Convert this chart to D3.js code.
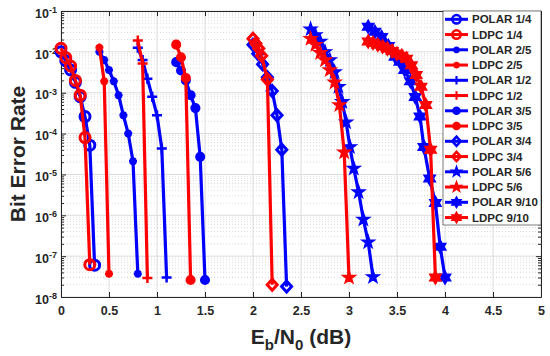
<!DOCTYPE html>
<html>
<head>
<meta charset="utf-8">
<script src="https://cdn.jsdelivr.net/npm/d3@7"></script>
<style>
    body { margin: 0; background: #fff; }
    svg { display: block; font-family: "Liberation Sans", Arial, sans-serif; }
</style>
</head>
<body>
<svg id="chart" width="550" height="356"></svg>
<script>
// Eb/N0 (dB), bit error rate
var polar_1_4 = [[0, 1.0e-2], [0.05, 6.0e-3], [0.1, 3.6e-3], [0.15, 1.8e-3], [0.2, 8.0e-4], [0.25, 2.6e-4], [0.3, 5.2e-5], [0.35, 6.0e-8]];
var ldpc_1_4 = [[0, 1.22e-2], [0.05, 7.2e-3], [0.1, 4.5e-3], [0.15, 2.0e-3], [0.2, 8.7e-4], [0.25, 8.0e-5], [0.3, 6.2e-8]];
var polar_2_5 = [[0.4, 1.0e-2], [0.45, 6.3e-3], [0.5, 3.6e-3], [0.55, 1.9e-3], [0.6, 8.7e-4], [0.65, 2.8e-4], [0.7, 1.0e-4], [0.75, 2.1e-5], [0.8, 3.7e-8]];
var ldpc_2_5 = [[0.4, 1.27e-2], [0.45, 1.9e-3], [0.5, 3.7e-8]];
var polar_1_2 = [[0.8, 1.26e-2], [0.85, 6.3e-3], [0.9, 2.2e-3], [0.95, 8.0e-4], [1.0, 2.8e-4], [1.05, 4.3e-5], [1.1, 3.0e-8]];
var ldpc_1_2 = [[0.8, 1.9e-2], [0.85, 5.2e-3], [0.9, 2.9e-8]];
var polar_3_5 = [[1.2, 5.6e-3], [1.25, 3.5e-3], [1.3, 2.0e-3], [1.35, 8.7e-4], [1.4, 4.2e-4], [1.45, 2.7e-5], [1.5, 2.6e-8]];
var ldpc_3_5 = [[1.2, 1.5e-2], [1.25, 7.4e-3], [1.3, 2.3e-3], [1.35, 2.6e-8]];
var polar_3_4 = [[2.0, 1.5e-2], [2.05, 9.0e-3], [2.1, 5.0e-3], [2.15, 2.4e-3], [2.2, 1.1e-3], [2.25, 2.8e-4], [2.3, 4.0e-5], [2.35, 1.8e-8]];
var ldpc_3_4 = [[2.0, 2.1e-2], [2.03, 1.6e-2], [2.06, 1.2e-2], [2.09, 8.0e-3], [2.15, 2.1e-3], [2.2, 2.0e-8]];
var polar_5_6 = [[2.6, 3.6e-2], [2.65, 2.6e-2], [2.7, 1.8e-2], [2.75, 1.0e-2], [2.8, 6.3e-3], [2.85, 3.2e-3], [2.89, 1.4e-3], [2.93, 6.0e-4], [2.97, 1.9e-4], [3.01, 4.7e-5], [3.05, 1.4e-5], [3.1, 3.7e-6], [3.15, 7.9e-7], [3.2, 2.2e-7], [3.25, 3.1e-8]];
var ldpc_5_6 = [[2.6, 2.1e-2], [2.65, 1.5e-2], [2.7, 9.5e-3], [2.75, 6.3e-3], [2.8, 3.6e-3], [2.85, 1.8e-3], [2.9, 5.0e-4], [2.95, 3.5e-5], [3.0, 3.0e-8]];
var polar_9_10 = [[3.2, 4.1e-2], [3.27, 3.1e-2], [3.34, 2.3e-2], [3.41, 1.4e-2], [3.48, 7.6e-3], [3.53, 5.7e-3], [3.58, 3.6e-3], [3.64, 1.9e-3], [3.69, 7.9e-4], [3.74, 2.6e-4], [3.78, 4.7e-5], [3.84, 8.0e-6], [3.9, 2.0e-6], [3.95, 1.7e-7], [4.0, 3.0e-8]];
var ldpc_9_10 = [[3.2, 1.8e-2], [3.25, 1.65e-2], [3.3, 1.5e-2], [3.35, 1.35e-2], [3.4, 1.2e-2], [3.45, 1.05e-2], [3.5, 9.0e-3], [3.55, 8.0e-3], [3.6, 6.8e-3], [3.65, 4.7e-3], [3.7, 2.7e-3], [3.75, 1.4e-3], [3.8, 5.0e-4], [3.85, 4.0e-5], [3.9, 3.0e-8]];

var xTicks = [0, 0.5, 1, 1.5, 2, 2.5, 3, 3.5, 4, 4.5, 5];
var yExponents = [-8, -7, -6, -5, -4, -3, -2, -1];

(function() {
    'use strict';

    var BLUE = '#0000ff';
    var RED = '#ff0000';
    var INK = '#262626';

    var plot = { left: 61, right: 541, top: 11, bottom: 297 };

    var series = [
        { name: 'POLAR 1/4', data: polar_1_4, color: BLUE, marker: 'o' },
        { name: 'LDPC 1/4', data: ldpc_1_4, color: RED, marker: 'o' },
        { name: 'POLAR 2/5', data: polar_2_5, color: BLUE, marker: '*' },
        { name: 'LDPC 2/5', data: ldpc_2_5, color: RED, marker: '*' },
        { name: 'POLAR 1/2', data: polar_1_2, color: BLUE, marker: '+' },
        { name: 'LDPC 1/2', data: ldpc_1_2, color: RED, marker: '+' },
        { name: 'POLAR 3/5', data: polar_3_5, color: BLUE, marker: '.' },
        { name: 'LDPC 3/5', data: ldpc_3_5, color: RED, marker: '.' },
        { name: 'POLAR 3/4', data: polar_3_4, color: BLUE, marker: 'd' },
        { name: 'LDPC 3/4', data: ldpc_3_4, color: RED, marker: 'd' },
        { name: 'POLAR 5/6', data: polar_5_6, color: BLUE, marker: 'p' },
        { name: 'LDPC 5/6', data: ldpc_5_6, color: RED, marker: 'p' },
        { name: 'POLAR 9/10', data: polar_9_10, color: BLUE, marker: 'h' },
        { name: 'LDPC 9/10', data: ldpc_9_10, color: RED, marker: 'h' }
    ];

    var svg = d3.select('#chart');

    var x = d3.scaleLinear().domain([0, 5]).range([plot.left, plot.right]);
    var y = d3.scaleLog().domain([1e-8, 1e-1]).range([plot.bottom, plot.top]);

    var decades = yExponents.map(function(e) { return Math.pow(10, e); });
    var minors = [];
    yExponents.slice(0, -1).forEach(function(e) {
        for (var k = 2; k <= 9; k++) minors.push(k * Math.pow(10, e));
    });

    /**
     * star shaped path (pentagram / hexagram)
     */
    function starPath(n, outer, inner) {
        var pts = [];
        for (var i = 0; i < n * 2; i++) {
            var r = i % 2 ? inner : outer;
            var a = -Math.PI / 2 + i * Math.PI / n;
            pts.push((r * Math.cos(a)).toFixed(2) + ',' + (r * Math.sin(a)).toFixed(2));
        }
        return 'M' + pts.join('L') + 'Z';
    }

    function markerPath(type) {
        var p = d3.path();
        var d;
        switch (type) {
            case 'o':
                p.arc(0, 0, 5, 0, 2 * Math.PI);
                return p.toString();
            case '.':
                p.arc(0, 0, 3.8, 0, 2 * Math.PI);
                return p.toString();
            case '*':
                d = 4 * Math.SQRT1_2;
                return 'M-4,0L4,0M0,-4L0,4M' + -d + ',' + -d + 'L' + d + ',' + d + 'M' + -d + ',' + d + 'L' + d + ',' + -d;
            case '+':
                return 'M-5,0L5,0M0,-5L0,5';
            case 'd':
                return 'M0,-5.5L5,0L0,5.5L-5,0Z';
            case 'p':
                return starPath(5, 6.5, 2.6);
            case 'h':
                return starPath(6, 6.5, 3.75);
        }
        return '';
    }

    function markerFill(s) {
        return (s.marker === '.' || s.marker === 'p' || s.marker === 'h') ? s.color : 'none';
    }

    function markerStroke(s) {
        if (s.marker === 'p' || s.marker === 'h') return 1.5;
        if (s.marker === 'o' || s.marker === 'd') return 3;
        return 2.5;
    }

    // grid
    var grid = svg.append('g').attr('class', 'grid');

    grid.selectAll('line.minor')
        .data(minors)
        .enter().append('line')
        .attr('class', 'minor')
        .attr('x1', plot.left).attr('x2', plot.right)
        .attr('y1', function(d) { return y(d); })
        .attr('y2', function(d) { return y(d); })
        .attr('stroke', '#d2d2d2')
        .attr('stroke-width', 0.8)
        .attr('stroke-dasharray', '1,2');

    grid.selectAll('line.hmajor')
        .data(decades)
        .enter().append('line')
        .attr('class', 'hmajor')
        .attr('x1', plot.left).attr('x2', plot.right)
        .attr('y1', function(d) { return y(d); })
        .attr('y2', function(d) { return y(d); })
        .attr('stroke', '#dcdcdc');

    grid.selectAll('line.vmajor')
        .data(xTicks)
        .enter().append('line')
        .attr('class', 'vmajor')
        .attr('y1', plot.top).attr('y2', plot.bottom)
        .attr('x1', function(d) { return x(d); })
        .attr('x2', function(d) { return x(d); })
        .attr('stroke', '#dcdcdc');

    // axes (ticks pointing inward, box on)
    function styleAxis(g) {
        g.selectAll('path, line').attr('stroke', INK);
        g.selectAll('text')
            .attr('fill', INK)
            .style('font-size', '12.5px')
            .style('font-weight', 'bold');
    }

    svg.append('g')
        .attr('transform', 'translate(0,' + plot.bottom + ')')
        .call(d3.axisBottom(x).tickValues(xTicks).tickFormat(d3.format('')).tickSizeInner(-5).tickSizeOuter(0).tickPadding(9))
        .call(styleAxis);

    svg.append('g')
        .attr('transform', 'translate(0,' + plot.top + ')')
        .call(d3.axisTop(x).tickValues(xTicks).tickFormat('').tickSizeInner(-5).tickSizeOuter(0))
        .call(styleAxis);

    var yLeft = svg.append('g')
        .attr('transform', 'translate(' + plot.left + ',0)')
        .call(d3.axisLeft(y).tickValues(decades).tickSizeInner(-5).tickSizeOuter(0).tickPadding(4))
        .call(styleAxis);

    yLeft.selectAll('.tick text')
        .text(null)
        .attr('dy', '0.5em')
        .each(function(d) {
            var t = d3.select(this);
            t.append('tspan').text('10');
            t.append('tspan')
                .attr('dy', '-0.55em')
                .style('font-size', '9px')
                .text(Math.round(Math.log10(d)));
        });

    svg.append('g')
        .attr('transform', 'translate(' + plot.left + ',0)')
        .call(d3.axisLeft(y).tickValues(minors).tickFormat('').tickSizeInner(-3).tickSizeOuter(0))
        .call(styleAxis)
        .select('.domain').remove();

    svg.append('g')
        .attr('transform', 'translate(' + plot.right + ',0)')
        .call(d3.axisRight(y).tickValues(decades).tickFormat('').tickSizeInner(-5).tickSizeOuter(0))
        .call(styleAxis);

    svg.append('g')
        .attr('transform', 'translate(' + plot.right + ',0)')
        .call(d3.axisRight(y).tickValues(minors).tickFormat('').tickSizeInner(-3).tickSizeOuter(0))
        .call(styleAxis)
        .select('.domain').remove();

    // curves
    var line = d3.line()
        .x(function(d) { return x(d[0]); })
        .y(function(d) { return y(d[1]); });

    var curves = svg.append('g').attr('class', 'curves');

    series.forEach(function(s) {
        var g = curves.append('g');

        g.append('path')
            .attr('d', line(s.data))
            .attr('fill', 'none')
            .attr('stroke', s.color)
            .attr('stroke-width', 3.2)
            .attr('stroke-linejoin', 'round');

        g.selectAll('path.mk')
            .data(s.data)
            .enter().append('path')
            .attr('class', 'mk')
            .attr('d', markerPath(s.marker))
            .attr('transform', function(d) { return 'translate(' + x(d[0]) + ',' + y(d[1]) + ')'; })
            .attr('fill', markerFill(s))
            .attr('stroke', s.color)
            .attr('stroke-width', markerStroke(s))
            .attr('stroke-linejoin', 'miter');
    });

    // axis titles
    var xlabel = svg.append('text')
        .attr('x', (plot.left + plot.right) / 2)
        .attr('y', 343.5)
        .attr('text-anchor', 'middle')
        .attr('fill', INK)
        .style('font-size', '21px')
        .style('font-weight', 'bold');
    xlabel.append('tspan').text('E');
    xlabel.append('tspan').attr('dy', 6).style('font-size', '15px').text('b');
    xlabel.append('tspan').attr('dy', -6).text('/N');
    xlabel.append('tspan').attr('dy', 6).style('font-size', '15px').text('0');
    xlabel.append('tspan').attr('dy', -6).text(' (dB)');

    svg.append('text')
        .attr('transform', 'translate(24.5,' + ((plot.top + plot.bottom) / 2) + ') rotate(-90)')
        .attr('text-anchor', 'middle')
        .attr('fill', INK)
        .style('font-size', '21px')
        .style('font-weight', 'bold')
        .text('Bit Error Rate');

    // legend
    var lg = { x: 443, y: 11, w: 98, h: 214, row0: 19.3, step: 15.25 };
    var legend = svg.append('g').attr('class', 'legend');

    legend.append('rect')
        .attr('x', lg.x).attr('y', lg.y)
        .attr('width', lg.w).attr('height', lg.h)
        .attr('fill', '#fff')
        .attr('stroke', INK)
        .attr('stroke-width', 0.6);

    var rows = legend.selectAll('g.row')
        .data(series)
        .enter().append('g')
        .attr('class', 'row')
        .attr('transform', function(d, i) { return 'translate(0,' + (lg.row0 + i * lg.step) + ')'; });

    rows.append('line')
        .attr('x1', 445).attr('x2', 468)
        .attr('stroke', function(d) { return d.color; })
        .attr('stroke-width', 3);

    rows.append('path')
        .attr('d', function(d) { return markerPath(d.marker); })
        .attr('transform', 'translate(456.5,0) scale(0.85)')
        .attr('fill', markerFill)
        .attr('stroke', function(d) { return d.color; })
        .attr('stroke-width', markerStroke);

    rows.append('text')
        .attr('x', 472)
        .attr('dy', '0.36em')
        .attr('fill', INK)
        .style('font-size', '11.5px')
        .style('font-weight', 'bold')
        .text(function(d) { return d.name; });
})();
</script>
</body>
</html>
